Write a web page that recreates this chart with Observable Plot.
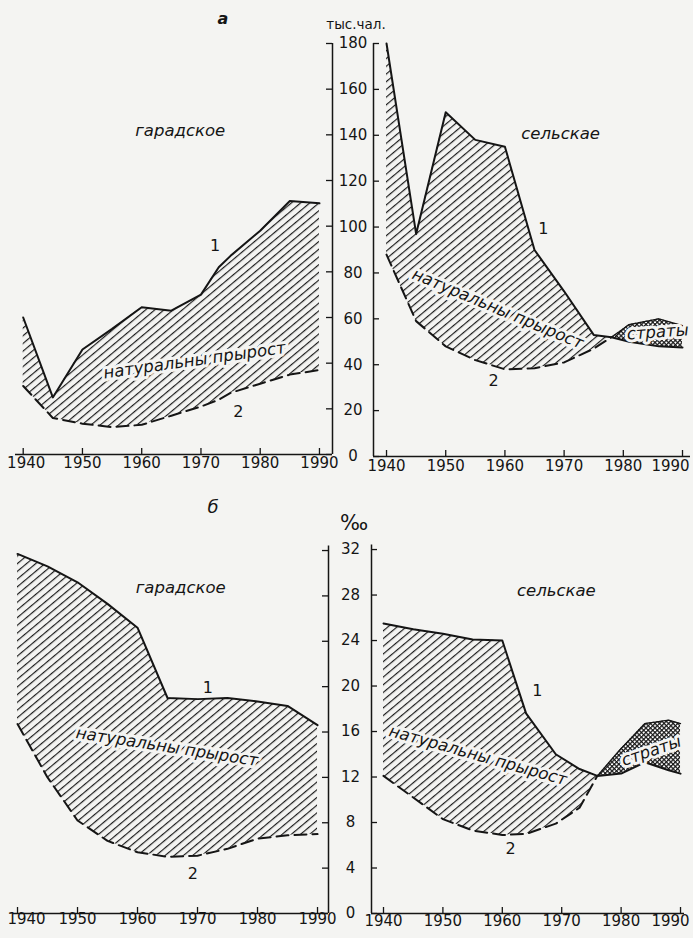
<!DOCTYPE html>
<html><head><meta charset="utf-8">
<script src="https://cdn.jsdelivr.net/npm/d3@7"></script>
<script src="https://cdn.jsdelivr.net/npm/@observablehq/plot@0.6"></script>
<style>
body{margin:0;background:#f4f4f2;}
#wrap{position:relative;width:693px;height:938px;overflow:hidden;font-family:"DejaVu Sans",sans-serif;color:#151515;}
.p{position:absolute;}
.lbl{position:absolute;transform:translate(-50%,-50%);white-space:nowrap;}
</style></head><body><div id="wrap">
<div class="lbl" style="left:223px;top:18px;font-size:16px;font-weight:bold;font-style:italic">а</div>
<div class="lbl" style="left:356px;top:24px;font-size:13.5px">тыс.чал.</div>
<div class="lbl" style="left:213px;top:506px;font-size:18px;font-style:italic">б</div>
<div class="lbl" style="left:354px;top:523px;font-size:21px">‰</div>
</div>
<script>
// ---- data ----
const xTicks = [1940, 1950, 1960, 1970, 1980, 1990];
const absTicks = [0, 20, 40, 60, 80, 100, 120, 140, 160, 180];
const rateTicks = [0, 4, 8, 12, 16, 20, 24, 28, 32];

// а: абсалютныя лічбы, тыс. чал. — гарадское
const urbanAbsYears  = [1940, 1945, 1950, 1955, 1960, 1965, 1970, 1973, 1975, 1980, 1985, 1990];
const urbanAbsBirths = [60, 25, 46, 55, 64.5, 63, 70, 82, 87, 98, 111, 110];
const urbanAbsDeaths = [30, 16, 13.5, 12, 13, 17, 21, 24, 27, 31, 35, 37];
// а: сельскае
const ruralAbsYears  = [1940, 1945, 1950, 1955, 1960, 1965, 1970, 1975, 1978, 1981, 1986, 1990];
const ruralAbsBirths = [180, 97, 150, 138, 135, 90, 72, 53, 52, 50, 48, 47.5];
const ruralAbsDeaths = [88, 59, 48, 42, 38, 38.5, 41, 47, 52, 57.5, 60, 57];
// б: каэфіцыенты, ‰ — гарадское
const urbanRateYears  = [1940, 1945, 1950, 1955, 1960, 1965, 1970, 1975, 1980, 1985, 1990];
const urbanRateBirths = [31.7, 30.6, 29.2, 27.3, 25.2, 19, 18.9, 19.0, 18.7, 18.3, 16.6];
const urbanRateDeaths = [16.7, 12, 8.2, 6.4, 5.4, 5.0, 5.1, 5.7, 6.6, 6.9, 7.0];
// б: сельскае
const ruralRateYears  = [1940, 1945, 1950, 1955, 1960, 1964, 1969, 1973, 1976, 1980, 1984, 1988, 1990];
const ruralRateBirths = [25.5, 25.0, 24.6, 24.1, 24.0, 17.6, 14.0, 12.7, 12.1, 12.3, 13.3, 12.6, 12.3];
const ruralRateDeaths = [12.1, 10.2, 8.3, 7.3, 6.9, 7.0, 7.9, 9.3, 12.1, 14.5, 16.7, 17.0, 16.7];

// annotations (data coordinates)
const notesUA = [
  {t: "гарадское", x: 1966.5, y: 142, r: 0, k: "title"},
  {t: "1", x: 1972.4, y: 91.5, r: 0, k: "num"},
  {t: "2", x: 1976.3, y: 18.8, r: 0, k: "num"},
  {t: "натуральны прырост", x: 1968.9, y: 41.2, r: -8, k: "ni"}
];
const notesRA = [
  {t: "сельскае", x: 1969.4, y: 140.7, r: 0, k: "title"},
  {t: "1", x: 1966.5, y: 99, r: 0, k: "num"},
  {t: "2", x: 1958.1, y: 32.8, r: 0, k: "num"},
  {t: "натуральны прырост", x: 1958.8, y: 64.4, r: 22.7, k: "ni"},
  {t: "страты", x: 1985.8, y: 54.2, r: -4, k: "ni"}
];
const notesUR = [
  {t: "гарадское", x: 1967.2, y: 28.7, r: 0, k: "title"},
  {t: "1", x: 1971.7, y: 19.9, r: 0, k: "num"},
  {t: "2", x: 1969.2, y: 3.5, r: 0, k: "num"},
  {t: "натуральны прырост", x: 1964.9, y: 14.7, r: 8.8, k: "ni"}
];
const notesRR = [
  {t: "сельскае", x: 1969.1, y: 28.4, r: 0, k: "title"},
  {t: "1", x: 1965.9, y: 19.6, r: 0, k: "num"},
  {t: "2", x: 1961.4, y: 5.7, r: 0, k: "num"},
  {t: "натуральны прырост", x: 1955.9, y: 13.9, r: 15.7, k: "ni"},
  {t: "страты", x: 1985.1, y: 14.3, r: -19, k: "ni"}
];

const ink = "#151515";
const bg = "#f4f4f2";
const font = "DejaVu Sans, sans-serif";

function panel(c) {
  const rows = c.years.map((year, i) => ({year, births: c.births[i], deaths: c.deaths[i]}));
  const nEnd = c.cross == null ? rows.length : c.cross + 1;
  const natural = rows.slice(0, nEnd);
  const strata = c.cross == null ? [] : rows.slice(c.cross);
  const [mT, mR, mB, mL] = c.margin;
  const plotW = c.width - mL - mR, plotH = c.height - mT - mB;
  const marks = [
    Plot.areaY(natural, {x: "year", y1: "deaths", y2: "births", fill: `url(#hatch-${c.id})`})
  ];
  if (strata.length) {
    marks.push(Plot.areaY(strata, {x: "year", y1: "births", y2: "deaths", fill: `url(#cross-${c.id})`}));
    marks.push(Plot.lineY(strata, {x: "year", y: "deaths", stroke: ink, strokeWidth: 1.3}));
  }
  const shifts = c.labelShift || {};
  const plain = xTicks.filter(t => !(t in shifts));
  const labelOpts = {frameAnchor: "bottom", dy: c.xLabelDy, text: d => String(d), fontSize: 15, fill: ink, fontFamily: font};
  marks.push(
    Plot.lineY(rows, {x: "year", y: "births", stroke: ink, strokeWidth: 2}),
    Plot.lineY(natural, {x: "year", y: "deaths", stroke: ink, strokeWidth: 2, strokeDasharray: "12,6"}),
    Plot.ruleY([c.yDomain[0]], {stroke: ink, strokeWidth: 1.5}),
    Plot.ruleX([c.axisSide === "right" ? c.xDomain[1] : c.xDomain[0]], {stroke: ink, strokeWidth: 1.5}),
    Plot.tickX(xTicks, {x: d => d, stroke: ink, strokeWidth: 1.3, insetTop: plotH - 6}),
    Plot.tickY(c.yTicks, {y: d => d, stroke: ink, strokeWidth: 1.3,
      ...(c.axisSide === "right" ? {insetLeft: plotW - 6} : {insetRight: plotW - 6})}),
    Plot.text(plain, {x: d => d, ...labelOpts})
  );
  for (const [t, dx] of Object.entries(shifts)) {
    marks.push(Plot.text([+t], {x: d => d, ...labelOpts, dx}));
  }
  if (c.showYLabels) {
    marks.push(Plot.text(c.yTicks, {y: d => d, frameAnchor: "left", dx: c.yLabelDx, text: d => String(d),
      textAnchor: "middle", fontSize: 15, fill: ink, fontFamily: font}));
  }
  const notes = c.notes;
  marks.push(
    Plot.text(notes.filter(d => d.k === "title"), {x: "x", y: "y", text: "t", fontStyle: "italic",
      fontSize: 16.5, fill: ink, fontFamily: font}),
    Plot.text(notes.filter(d => d.k === "num"), {x: "x", y: "y", text: "t",
      fontSize: 16, fill: ink, fontFamily: font}),
    Plot.text(notes.filter(d => d.k === "ni"), {x: "x", y: "y", text: "t", rotate: "r", fontStyle: "italic",
      fontSize: 16.5, fill: ink, stroke: bg, strokeWidth: 6, fontFamily: font})
  );
  const svg = Plot.plot({
    width: c.width, height: c.height,
    marginTop: mT, marginRight: mR, marginBottom: mB, marginLeft: mL,
    x: {domain: c.xDomain, axis: null},
    y: {domain: c.yDomain, axis: null},
    style: {background: "transparent", overflow: "visible", fontFamily: font},
    marks
  });
  d3.select(svg).insert("defs", ":first-child").html(
    `<pattern id="hatch-${c.id}" patternUnits="userSpaceOnUse" width="5.9" height="10" patternTransform="rotate(50)">` +
    `<line x1="0.6" y1="-1" x2="0.6" y2="11" stroke="${ink}" stroke-width="1.15"/></pattern>` +
    `<pattern id="cross-${c.id}" patternUnits="userSpaceOnUse" width="3.2" height="3.2" patternTransform="rotate(45)">` +
    `<rect width="3.2" height="3.2" fill="#fff"/><path d="M0 0.6H3.2M0.6 0V3.2" stroke="${ink}" stroke-width="1.3"/></pattern>`
  );
  const div = document.createElement("div");
  div.className = "p";
  div.style.left = c.left + "px";
  div.style.top = c.top + "px";
  div.appendChild(svg);
  document.getElementById("wrap").appendChild(div);
}

panel({id: "ua", years: urbanAbsYears, births: urbanAbsBirths, deaths: urbanAbsDeaths, cross: null,
  axisSide: "right", xDomain: [1938.7, 1992.2], yDomain: [0, 180], yTicks: absTicks,
  left: 0, top: 0, width: 345, height: 485, margin: [43, 13, 31, 15], xLabelDy: 13, showYLabels: false,
  labelShift: {1940: 3}, notes: notesUA});
panel({id: "ra", years: ruralAbsYears, births: ruralAbsBirths, deaths: ruralAbsDeaths, cross: 8,
  axisSide: "left", xDomain: [1937.8, 1991.35], yDomain: [0, 180], yTicks: absTicks,
  left: 345, top: 0, width: 348, height: 485, margin: [43, 3, 29, 28], xLabelDy: 14, showYLabels: true, yLabelDx: -20.5,
  labelShift: {1990: -12}, notes: notesRA});
panel({id: "ur", years: urbanRateYears, births: urbanRateBirths, deaths: urbanRateDeaths, cross: null,
  axisSide: "right", xDomain: [1939.33, 1991.83], yDomain: [0, 32.4], yTicks: rateTicks,
  left: 0, top: 485, width: 345, height: 453, margin: [60.5, 17, 25, 13], xLabelDy: 10, showYLabels: false,
  labelShift: {1940: 9}, notes: notesUR});
panel({id: "rr", years: ruralRateYears, births: ruralRateBirths, deaths: ruralRateDeaths, cross: 8,
  axisSide: "left", xDomain: [1937.98, 1990.67], yDomain: [0, 32.4], yTicks: rateTicks,
  left: 345, top: 485, width: 348, height: 453, margin: [59.5, 9, 25, 26], xLabelDy: 12, showYLabels: true, yLabelDx: -21,
  labelShift: {1990: -10}, notes: notesRR});
</script>
</body></html>
